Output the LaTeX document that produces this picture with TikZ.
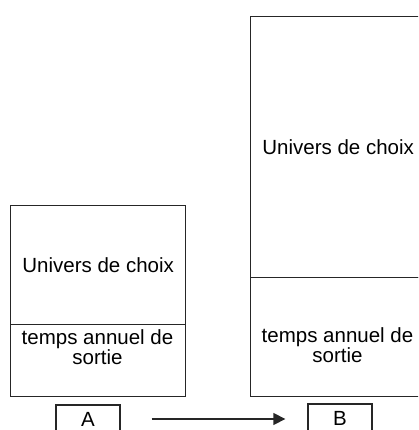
\documentclass[tikz,border=0pt]{standalone}
\usepackage{fontspec}
\setmainfont{Liberation Sans}
\usetikzlibrary{arrows.meta}
\begin{document}
\begin{tikzpicture}[x=1pt,y=-1pt,
  cell/.style={draw=black!85,line width=1.3pt,rectangle,inner sep=0pt,anchor=north west},
  lbl/.style={font=\fontsize{20.5}{20}\selectfont,align=center,inner sep=0pt},
  tag/.style={draw=black!85,line width=1.3pt,rectangle,inner sep=0pt,
    minimum width=64pt,minimum height=28pt,font=\fontsize{20.5}{20}\selectfont},
  link/.style={draw=black!85,line width=1.3pt,-{Triangle[length=12pt,width=12pt]}}]
  \clip (0,0) rectangle (418,430);
  % situation A: small choice universe
  \node[cell,minimum width=175pt,minimum height=119pt] (ua) at (10,205) {};
  \node[cell,minimum width=175pt,minimum height=72pt] (ta) at (10,324) {};
  \node[lbl] (ual) at (ua.center) {Univers de choix};
  \node[lbl] (tal) at (97.5,347) {temps annuel de\\sortie};
  % situation B: large choice universe
  \node[cell,minimum width=175pt,minimum height=261pt] (ub) at (250,16) {};
  \node[cell,minimum width=175pt,minimum height=119pt] (tb) at (250,277) {};
  \node[lbl] (ubl) at (ub.center) {Univers de choix};
  \node[lbl] (tbl) at (337.5,345) {temps annuel de\\sortie};
  % labels and transition
  \node[tag] (A) at (88,419) {A};
  \node[tag] (B) at (340,418) {B};
  \draw[link,shorten <=31pt,shorten >=22pt] (A.east) -- (A.east -| B.west);
\end{tikzpicture}
\end{document}
